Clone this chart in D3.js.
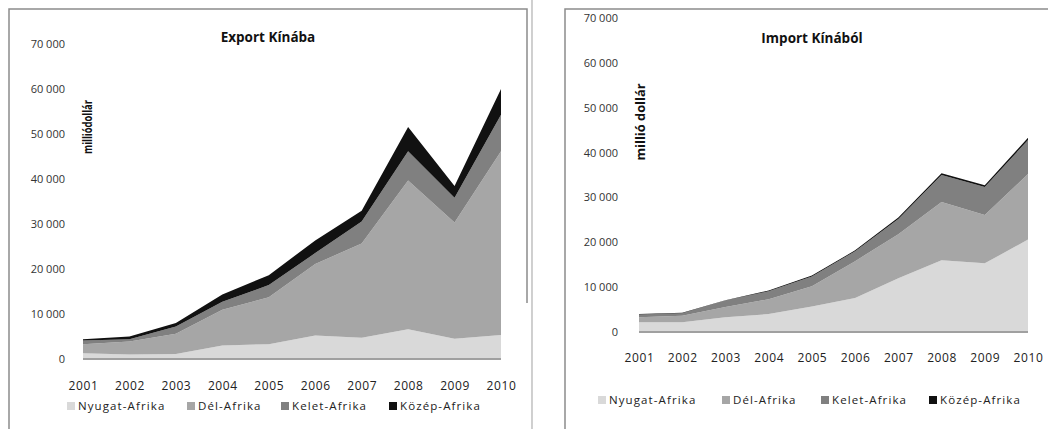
<!DOCTYPE html>
<html><head><meta charset="utf-8">
<script src="https://cdn.jsdelivr.net/npm/d3@7"></script>
<style>
html,body{margin:0;padding:0;background:#fff;}
svg{display:block;font-family:"Open Sans","Noto Sans",sans-serif;}
</style></head>
<body><svg id="c" width="1048" height="429"></svg>
<script>
const years = ["2001","2002","2003","2004","2005","2006","2007","2008","2009","2010"];
const seriesNames = ["Nyugat-Afrika","Dél-Afrika","Kelet-Afrika","Közép-Afrika"];
const yTicks = [0,10000,20000,30000,40000,50000,60000,70000];

// Export Kínába (millió dollár)
const exportNyugat = [1300,1000,1100,3000,3300,5200,4700,6600,4500,5300];
const exportDel    = [2000,2900,4500,7900,10400,15900,20900,33000,25800,40800];
const exportKelet  = [800,500,1600,1800,2700,2400,4900,6500,5500,8100];
const exportKozep  = [300,600,800,1600,2200,2800,2400,5400,2600,5700];

// Import Kínából (millió dollár)
const importNyugat = [2200,2200,3300,4000,5700,7600,12000,16000,15300,20600];
const importDel    = [1100,1400,2300,3300,4500,8200,9800,13000,10800,14600];
const importKelet  = [600,600,1400,1800,2200,2200,3400,6000,6200,7600];
const importKozep  = [100,100,100,150,200,200,300,400,400,500];

const colors = ["#d9d9d9","#a6a6a6","#808080","#111111"];

const svg = d3.select("#c");
const loc = d3.formatLocale({decimal:",", thousands:" ", grouping:[3], currency:["",""]});
const fmt = loc.format(",d");

// frames
const frame = svg.append("g").attr("stroke","#8c8c8c").attr("stroke-width",1.5).attr("fill","none");
frame.append("path").attr("d","M9,429 V9 H527 V303");
frame.append("path").attr("d","M532,0 V429").attr("stroke","#b0b0b0").attr("stroke-width",1.2);
frame.append("path").attr("d","M565,429 V9 H1048");

function drawChart(cfg){
  const rows = years.map((y,i)=>{
    const r = {year:y};
    seriesNames.forEach((s,k)=>{ r[s] = cfg.values[k][i]; });
    return r;
  });
  const x = d3.scalePoint().domain(years).range([cfg.x0,cfg.x1]);
  const y = d3.scaleLinear().domain([0,70000]).range([cfg.y0,cfg.y1]);
  const stack = d3.stack().keys(seriesNames)(rows);
  const area = d3.area().x(d=>x(d.data.year)).y0(d=>y(d[0])).y1(d=>y(d[1]));
  const g = svg.append("g");
  g.selectAll("path.a").data(stack).join("path").attr("class","a")
    .attr("d",area).attr("fill",(d,i)=>colors[i]);
  // baseline
  g.append("line").attr("x1",cfg.x0).attr("x2",cfg.x1).attr("y1",y(0)).attr("y2",y(0))
    .attr("stroke","#a0a0a0").attr("stroke-width",2);
  // y axis
  const ya = g.append("g").attr("transform",`translate(${cfg.x0},0)`)
    .call(d3.axisLeft(y).tickValues(yTicks).tickFormat(fmt).tickSize(0).tickPadding(cfg.yPad));
  ya.select(".domain").remove();
  ya.selectAll("text").attr("font-size",11).attr("fill","#333").attr("font-family","'Open Sans',sans-serif");
  // x axis
  const xa = g.append("g").attr("transform",`translate(0,${y(0)})`)
    .call(d3.axisBottom(x).tickSize(0).tickPadding(cfg.xPad));
  xa.select(".domain").remove();
  xa.selectAll("text").attr("font-size",12).attr("fill","#222").attr("letter-spacing","0.6px")
    .attr("font-family","'Open Sans',sans-serif");
  // title
  g.append("text").attr("x",cfg.titleX).attr("y",cfg.titleY).attr("text-anchor","middle")
    .attr("font-size",13.5).attr("font-weight","bold").attr("fill","#111").text(cfg.title);
  // y label
  g.append("text").attr("transform",`translate(${cfg.labX},${cfg.labY}) rotate(-90)`)
    .attr("text-anchor","middle").attr("font-size",12).attr("font-weight","bold").attr("fill","#111")
    .attr("textLength",cfg.labLen).attr("lengthAdjust","spacingAndGlyphs")
    .text(cfg.yLabel);
  // legend
  const lg = g.append("g");
  seriesNames.forEach((s,k)=>{
    const lx = cfg.legX[k];
    lg.append("rect").attr("x",lx).attr("y",cfg.legY-4).attr("width",8).attr("height",8).attr("fill",colors[k]);
    lg.append("text").attr("x",lx+11).attr("y",cfg.legY).attr("dy","0.35em")
      .attr("font-size",11.5).attr("fill","#222").attr("letter-spacing","1.1px").text(s);
  });
}

drawChart({
  values:[exportNyugat,exportDel,exportKelet,exportKozep],
  x0:83, x1:501, y0:359, y1:43.5, yPad:18, xPad:22,
  title:"Export Kínába", titleX:268, titleY:42,
  yLabel:"milliódollár", labX:92, labY:127, labLen:54,
  legX:[67,187,281,389], legY:406
});
drawChart({
  values:[importNyugat,importDel,importKelet,importKozep],
  x0:639, x1:1028, y0:332, y1:18, yPad:21, xPad:21,
  title:"Import Kínából", titleX:812, titleY:43,
  yLabel:"millió dollár", labX:645, labY:122, labLen:77,
  legX:[598,722,821,929], legY:400
});
</script></body></html>
